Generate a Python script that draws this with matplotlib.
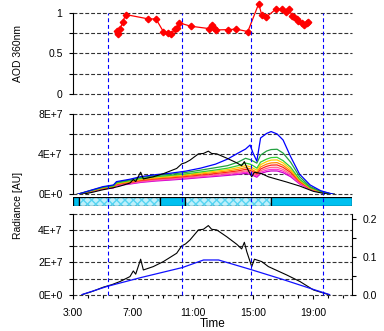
import matplotlib
matplotlib.use("Agg")
import matplotlib.pyplot as plt
from matplotlib.lines import Line2D
from matplotlib.ticker import FixedLocator, MultipleLocator, FuncFormatter
from matplotlib.transforms import blended_transform_factory

plt.rcParams["font.family"] = ["Liberation Sans", "DejaVu Sans"]

# --- data (time in decimal hours) ---
aod_t = [5.91, 6.02, 6.13, 6.31, 6.51, 8.02, 8.53, 9.02, 9.31, 9.53, 9.80, 9.91,
         10.09, 10.85, 12.09, 12.29, 12.42, 12.53, 13.35, 13.87, 14.65, 15.38,
         15.58, 15.87, 16.51, 16.91, 17.20, 17.42, 17.58, 17.75, 17.91, 18.02,
         18.25, 18.42, 18.58, 18.69]
aod = [0.78, 0.745, 0.80, 0.885, 0.98, 0.926, 0.926, 0.77, 0.75, 0.737, 0.806,
       0.82, 0.877, 0.836, 0.806, 0.852, 0.82, 0.79, 0.794, 0.80, 0.77, 1.115,
       0.97, 0.947, 1.045, 1.045, 1.016, 1.05, 0.963, 0.947, 0.922, 0.90,
       0.873, 0.848, 0.873, 0.885]

# spectral radiance channels (units of 1E7)
spec_t = [3.3, 4.1, 5.0, 5.7, 5.9, 6.8, 7.5, 8.5, 9.5, 10.5, 11.5, 12.5, 13.3,
          14.0, 14.5, 14.8, 15.0, 15.25, 15.5, 15.9, 16.2, 16.6, 17.0, 17.5,
          18.1, 18.8, 19.5, 20.1, 20.4]
ch_blue = [0, 0.36, 0.76, 0.93, 1.26, 1.50, 1.75, 1.95, 2.10, 2.30, 2.60, 3.00,
           3.50, 4.10, 4.50, 4.90, 4.10, 3.30, 5.60, 6.05, 6.24, 6.00, 5.40,
           3.75, 2.00, 0.93, 0.36, 0.10, 0]
ch_green = [0, 0.34, 0.72, 0.88, 1.20, 1.43, 1.67, 1.86, 2.00, 2.17, 2.40, 2.65,
            2.85, 3.20, 3.58, 3.45, 3.30, 3.10, 3.90, 4.30, 4.45, 4.48, 4.10,
            3.20, 1.75, 0.76, 0.30, 0.08, 0]
ch_lgreen = [0, 0.32, 0.68, 0.83, 1.13, 1.35, 1.57, 1.75, 1.88, 2.03, 2.22,
             2.42, 2.60, 2.85, 3.10, 3.00, 2.85, 2.60, 3.20, 3.50, 3.65, 3.68,
             3.35, 2.70, 1.50, 0.68, 0.27, 0.07, 0]
ch_yellow = [0, 0.31, 0.66, 0.80, 1.09, 1.30, 1.51, 1.68, 1.80, 1.95, 2.12,
             2.30, 2.45, 2.65, 2.85, 2.75, 2.60, 2.40, 2.95, 3.25, 3.40, 3.42,
             3.12, 2.50, 1.42, 0.64, 0.26, 0.07, 0]
ch_orange = [0, 0.30, 0.63, 0.77, 1.04, 1.24, 1.44, 1.60, 1.72, 1.86, 2.02,
             2.18, 2.32, 2.48, 2.65, 2.55, 2.40, 2.20, 2.72, 3.00, 3.12, 3.15,
             2.88, 2.32, 1.33, 0.60, 0.24, 0.06, 0]
ch_red = [0, 0.28, 0.60, 0.73, 0.99, 1.18, 1.37, 1.53, 1.64, 1.77, 1.92, 2.07,
          2.20, 2.33, 2.48, 2.38, 2.25, 2.05, 2.52, 2.78, 2.90, 2.92, 2.68,
          2.17, 1.25, 0.57, 0.23, 0.06, 0]
ch_pink = [0, 0.27, 0.57, 0.70, 0.94, 1.12, 1.30, 1.45, 1.56, 1.68, 1.82, 1.96,
           2.08, 2.20, 2.32, 2.22, 2.10, 1.92, 2.35, 2.58, 2.68, 2.69, 2.47,
           2.00, 1.17, 0.54, 0.22, 0.06, 0]
ch_magenta = [0, 0.26, 0.55, 0.67, 0.90, 1.07, 1.24, 1.38, 1.49, 1.60, 1.74,
              1.87, 1.98, 2.09, 2.20, 2.10, 1.98, 1.80, 2.20, 2.40, 2.48, 2.49,
              2.30, 1.87, 1.10, 0.51, 0.21, 0.05, 0]
ch_purple = [0, 0.25, 0.53, 0.64, 0.86, 1.02, 1.18, 1.32, 1.42, 1.53, 1.66,
             1.78, 1.88, 1.98, 2.08, 1.98, 1.87, 1.70, 2.06, 2.25, 2.32, 2.32,
             2.15, 1.75, 1.03, 0.48, 0.20, 0.05, 0]
channels = [ch_blue, ch_green, ch_lgreen, ch_yellow, ch_orange, ch_red,
            ch_pink, ch_magenta, ch_purple]
ch_colors = ["#0000ff", "#22a040", "#33cc33", "#ffcc00", "#ff8800", "#ff2020",
             "#ff6688", "#ff33cc", "#cc00cc"]

# broadband radiance (units of 1E7)
bb_t = [3.62, 4.3, 5.02, 5.6, 6.13, 6.8, 7.02, 7.18, 7.51, 7.69, 8.35, 9.02,
        9.91, 10.24, 10.5, 10.8, 11.36, 11.69, 12.02, 12.24, 12.58, 13.24,
        13.91, 14.24, 14.42, 14.58, 14.91, 15.09, 15.58, 16.02, 17.24, 18.13,
        19.02, 20.02]
bb = [0, 0.2, 0.46, 0.62, 0.81, 1.12, 1.47, 1.27, 2.2, 1.53, 1.74, 2.05, 2.57,
      3.02, 3.15, 3.4, 4.02, 4.06, 4.29, 4.06, 4.02, 3.6, 3.13, 2.84, 3.25,
      2.67, 1.74, 2.2, 2.05, 1.74, 1.22, 0.81, 0.29, 0]

# right axis quantity
rq_t = [3.6, 5.3, 7.5, 10.3, 11.7, 12.7, 14.9, 17.0, 19.0, 20.1]
rq = [0, 0.022, 0.045, 0.072, 0.092, 0.092, 0.066, 0.040, 0.014, 0]

# sky condition bar
sky_start = [3.0, 3.38, 8.8, 10.47, 16.2]
sky_end = [3.38, 8.8, 10.47, 16.2, 21.6]
sky_hatched = [False, True, False, True, False]

marks_t = [5.35, 10.29, 14.89, 19.64]

XMIN, XMAX = 3.0, 21.6
GRID_KW = dict(color="#333333", lw=0.8, dashes=(3.5, 1.8))

fig = plt.figure(figsize=(3.84, 3.31), dpi=100)
L, W = 0.190, 0.727
ax_top = fig.add_axes([L, 0.716, W, 0.245])
ax_mid = fig.add_axes([L, 0.413, W, 0.243])
ax_bar = fig.add_axes([L, 0.379, W, 0.026])
ax_bot = fig.add_axes([L, 0.110, W, 0.243])


def style(ax, right=False):
    for s in ["top", "bottom"]:
        ax.spines[s].set_visible(False)
    ax.spines["right"].set_visible(right)
    ax.set_xlim(XMIN, XMAX)
    ax.tick_params(axis="y", which="major", length=3, width=0.8, pad=4.5,
                   labelsize=7.5)
    ax.tick_params(axis="y", which="minor", length=3, width=0.8)


# top: AOD
style(ax_top)
ax_top.set_ylim(0, 1)
ax_top.yaxis.set_major_locator(FixedLocator([0, 0.5, 1]))
ax_top.yaxis.set_minor_locator(FixedLocator([0.25, 0.75]))
ax_top.yaxis.set_major_formatter(FuncFormatter(lambda v, p: f"{v:g}"))
ax_top.set_xticks([])
for g in [0, 0.25, 0.5, 0.75, 1]:
    ax_top.axhline(g, **GRID_KW, clip_on=False)
ax_top.plot(aod_t, aod, color="#ff0000", lw=0.9, marker="D", markersize=3.3,
            clip_on=False, zorder=5)

# middle: spectral radiance
style(ax_mid)
ax_mid.set_ylim(0, 8e7)
ax_mid.yaxis.set_major_locator(FixedLocator([0, 4e7, 8e7]))
ax_mid.yaxis.set_minor_locator(FixedLocator([2e7, 6e7]))
ax_mid.yaxis.set_major_formatter(FuncFormatter(
    lambda v, p: "0E+0" if v == 0 else f"{v/1e7:.0f}E+7"))
ax_mid.set_xticks([])
for g in [0, 2e7, 4e7, 6e7, 8e7]:
    ax_mid.axhline(g, **GRID_KW, clip_on=False)
ax_mid.plot(bb_t, [v * 1e7 for v in bb], color="black", lw=0.8, zorder=3)
for vals, c in zip(channels[::-1], ch_colors[::-1]):
    ax_mid.plot(spec_t, [v * 1e7 for v in vals], color=c, lw=0.9)

# sky condition bar
ax_bar.set_xlim(XMIN, XMAX)
ax_bar.set_ylim(0, 1)
ax_bar.axis("off")
for s, e, h in zip(sky_start, sky_end, sky_hatched):
    if h:
        ax_bar.broken_barh([(s, e - s)], (0, 1), facecolor="#bff0fb",
                           edgecolor="#55d4f2", hatch="xxxx", lw=0)
    else:
        ax_bar.broken_barh([(s, e - s)], (0, 1), facecolor="#00c0f0", lw=0)
    ax_bar.broken_barh([(s, e - s)], (0, 1), facecolor="none",
                       edgecolor="black", lw=0.9)

# bottom: broadband radiance + right axis
style(ax_bot)
ax_bot.set_ylim(0, 5e7)
ax_bot.yaxis.set_major_locator(FixedLocator([0, 2e7, 4e7]))
ax_bot.yaxis.set_minor_locator(FixedLocator([1e7, 3e7, 5e7]))
ax_bot.yaxis.set_major_formatter(FuncFormatter(
    lambda v, p: "0E+0" if v == 0 else f"{v/1e7:.0f}E+7"))
for g in [0, 1e7, 2e7, 3e7, 4e7, 5e7]:
    ax_bot.axhline(g, **GRID_KW, clip_on=False)
ax_bot.plot(bb_t, [v * 1e7 for v in bb], color="black", lw=0.8)
ax_bot.xaxis.set_major_locator(FixedLocator([3, 7, 11, 15, 19]))
ax_bot.xaxis.set_minor_locator(MultipleLocator(1))
ax_bot.xaxis.set_major_formatter(FuncFormatter(lambda v, p: f"{int(v)}:00"))
ax_bot.tick_params(axis="x", which="major", length=3, width=0.8, pad=7,
                   labelsize=7.5)
ax_bot.tick_params(axis="x", which="minor", length=2, width=0.8)
ax_bot.set_xlabel("Time", fontsize=8.5, labelpad=0)

ax_r = ax_bot.twinx()
ax_r.set_xlim(XMIN, XMAX)
for s in ["top", "bottom", "left"]:
    ax_r.spines[s].set_visible(False)
ax_r.set_ylim(0, 0.2138)
ax_r.yaxis.set_major_locator(FixedLocator([0, 0.1, 0.2]))
ax_r.yaxis.set_minor_locator(FixedLocator([0.05, 0.15]))
ax_r.yaxis.set_major_formatter(FuncFormatter(lambda v, p: f"{v:.1f}"))
ax_r.tick_params(axis="y", which="major", length=3, width=0.8, pad=4.5,
                 labelsize=7.5)
ax_r.tick_params(axis="y", which="minor", length=3, width=0.8)
ax_r.plot(rq_t, rq, color="#1010ff", lw=0.9)

# y labels
fig.text(18 / 384, 1 - 53 / 331, "AOD 360nm", rotation=90, ha="center",
         va="center", fontsize=7.5)
fig.text(18 / 384, 1 - 205 / 331, "Radiance [AU]", rotation=90, ha="center",
         va="center", fontsize=7.5)

# blue dashed marker lines through all panels
tr = blended_transform_factory(ax_bot.transData, fig.transFigure)
for t in marks_t:
    fig.add_artist(Line2D([t, t], [0.110, 0.961], transform=tr,
                          color="#0000ff", lw=0.8, dashes=(3.5, 2.5),
                          zorder=10))

fig.savefig("out.png", dpi=100)
